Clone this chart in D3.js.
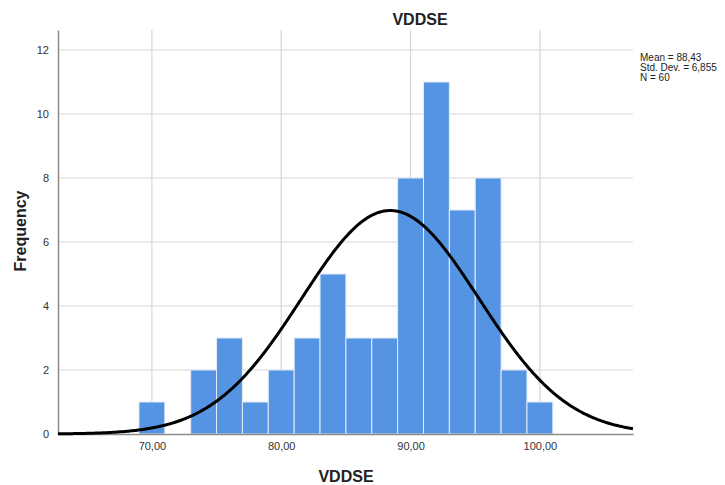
<!DOCTYPE html>
<html><head><meta charset="utf-8">
<script src="https://cdn.jsdelivr.net/npm/d3@7"></script>
<style>body{margin:0;background:#fff}svg{display:block;font-family:Arial,"Liberation Sans",sans-serif}</style>
</head><body><svg id="c" width="725" height="485"></svg>
<script>
const binCenters = [70,72,74,76,78,80,82,84,86,88,90,92,94,96,98,100];
const counts     = [1,0,2,3,1,2,3,5,3,3,8,11,7,8,2,1];
const binWidth = 2;
const xTicks = [70,80,90,100];
const yTicks = [0,2,4,6,8,10,12];
const stats = {mean:88.43, sd:6.855, n:60};
const statLines = ["Mean = 88,43","Std. Dev. = 6,855","N = 60"];

const svg = d3.select("#c");
const L=58, R=633, T=30, B=434;
const x = d3.scaleLinear().domain([62.74,107.2]).range([L,R]);
const y = d3.scaleLinear().domain([0,12.625]).range([B,T]);
const fmt = v => d3.format(".2f")(v).replace(".",",");

// gridlines
svg.append("g").selectAll("line").data(yTicks.filter(d=>d>0)).join("line")
  .attr("x1",L).attr("x2",R).attr("y1",d=>y(d)).attr("y2",d=>y(d))
  .attr("stroke","#d6d6d6").attr("stroke-width",1.2);
svg.append("g").selectAll("line").data(xTicks).join("line")
  .attr("x1",d=>x(d)).attr("x2",d=>x(d)).attr("y1",T).attr("y2",B)
  .attr("stroke","#d6d6d6").attr("stroke-width",1.2);

// bars
svg.append("g").selectAll("rect").data(binCenters.map((c,i)=>({c,v:counts[i]})).filter(d=>d.v>0)).join("rect")
  .attr("x",d=>x(d.c-binWidth/2)).attr("width",d=>x(d.c+binWidth/2)-x(d.c-binWidth/2))
  .attr("y",d=>y(d.v)).attr("height",d=>y(0)-y(d.v))
  .attr("fill","#5594e3").attr("stroke","#e4ecf7").attr("stroke-width",1);

// axes
const yAxis = d3.axisLeft(y).tickValues(yTicks).tickSize(0).tickPadding(9).tickFormat(d3.format("d"));
const gy = svg.append("g").attr("transform",`translate(${L},0)`).call(yAxis);
gy.select(".domain").attr("stroke","#8c8c8c").attr("stroke-width",1.5);
gy.selectAll("text").attr("font-size",11).attr("fill","#333").attr("font-family","Arial,'Liberation Sans',sans-serif");

const xAxis = d3.axisBottom(x).tickValues(xTicks).tickSize(0).tickPadding(8).tickFormat(fmt);
const gx = svg.append("g").attr("transform",`translate(0,${B})`).call(xAxis);
gx.select(".domain").attr("stroke","#8c8c8c").attr("stroke-width",1.5);
gx.selectAll("text").attr("font-size",11).attr("fill","#333").attr("font-family","Arial,'Liberation Sans',sans-serif");

// normal curve
const pdf = v => stats.n*binWidth/(stats.sd*Math.sqrt(2*Math.PI))*Math.exp(-0.5*((v-stats.mean)/stats.sd)**2);
const xs = d3.range(0,401).map(i=>x.domain()[0]+i*(x.domain()[1]-x.domain()[0])/400);
svg.append("path").datum(xs)
  .attr("d",d3.line().x(d=>x(d)).y(d=>y(pdf(d))).curve(d3.curveLinear))
  .attr("fill","none").attr("stroke","#000").attr("stroke-width",3);

// titles
svg.append("text").attr("x",420).attr("y",25).attr("text-anchor","middle")
  .attr("font-size",16).attr("font-weight","bold").attr("fill","#222").text("VDDSE");
svg.append("text").attr("x",346).attr("y",482).attr("text-anchor","middle")
  .attr("font-size",16).attr("font-weight","bold").attr("fill","#222").text("VDDSE");
svg.append("text").attr("transform","translate(26,231) rotate(-90)").attr("text-anchor","middle")
  .attr("font-size",16).attr("font-weight","bold").attr("fill","#222").text("Frequency");

// stats legend
svg.append("g").selectAll("text").data(statLines).join("text")
  .attr("x",640).attr("y",(d,i)=>61+i*10).attr("font-size",10).attr("fill","#222").text(d=>d);
</script></body></html>
